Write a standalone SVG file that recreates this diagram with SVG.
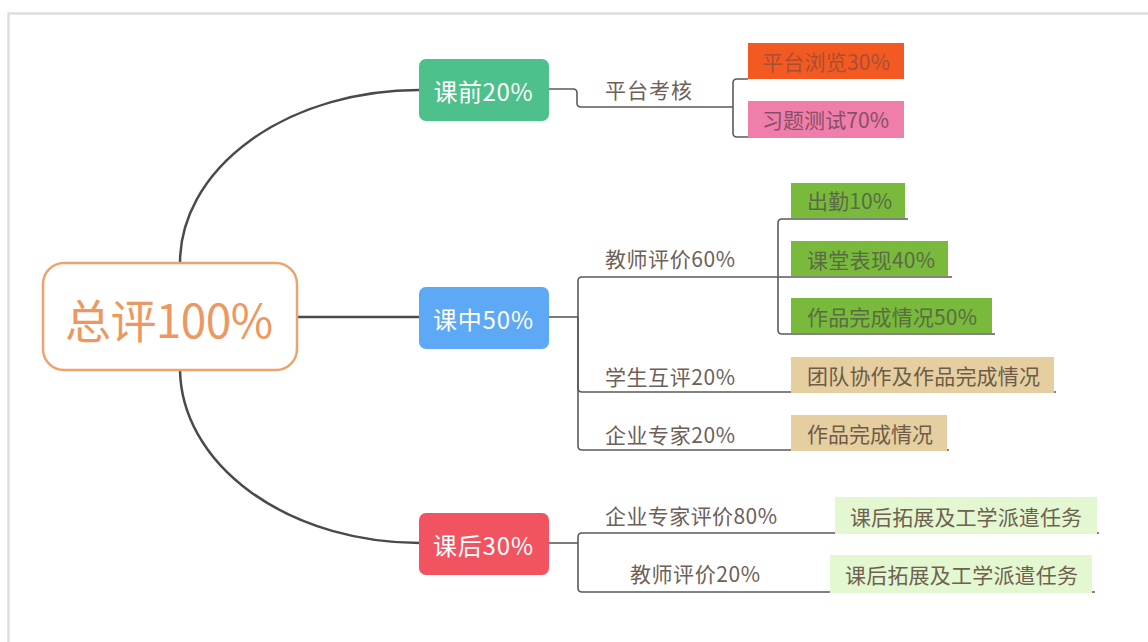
<svg xmlns="http://www.w3.org/2000/svg" width="1148" height="642" viewBox="0 0 1148 642">
<style>
text{font-family:"Noto Sans CJK SC","Noto Sans",sans-serif;dominant-baseline:central}
.main{fill:none;stroke:#4a4a4a;stroke-width:2.5}
.br{fill:none;stroke:#5a5a5a;stroke-width:1.6}
.l1{fill:#fff;font-size:24px;text-anchor:middle}
.lab{fill:#6d6058;font-size:21px}
.lf{font-size:21px}
</style>
<rect x="8.5" y="13.5" width="1200" height="700" fill="#fff" stroke="#dedede" stroke-width="2.5"/>
<g id="connectors">
<path class="main" d="M180 263 A239 173 0 0 1 419 90"/>
<path class="main" d="M180 370 A240 175 0 0 0 420 543"/>
<path class="main" d="M297 317 H419"/>
<path class="br" d="M549 89 H573 Q577 89 577 93 V103 Q577 107 581 107 H733"/>
<path class="br" d="M733 107 V83 Q733 79 737 79 H748"/>
<path class="br" d="M733 107 V133 Q733 137 737 137 H748"/>
<path class="br" d="M549 317 H578"/>
<path class="br" d="M578 317 V281 Q578 277 582 277 H778"/>
<path class="br" d="M778 277 V223 Q778 219 782 219 H908"/>
<path class="br" d="M778 277 H952"/>
<path class="br" d="M778 277 V330 Q778 334 782 334 H995"/>
<path class="br" d="M578 317 V388 Q578 392 582 392 H1056"/>
<path class="br" d="M578 317 V446 Q578 450 582 450 H949"/>
<path class="br" d="M549 543 H578"/>
<path class="br" d="M578 543 V537 Q578 533 582 533 H1099"/>
<path class="br" d="M578 543 V588 Q578 592 582 592 H1095"/>
</g>
<g id="root">
<rect x="43" y="263" width="254" height="107" rx="21" fill="#fff" stroke="#eea36f" stroke-width="2.5"/>
<text x="169" y="318" font-size="46" fill="#ec9862" text-anchor="middle" textLength="208">总评100%</text>
</g>
<g id="kq">
<rect x="419" y="59" width="130" height="62" rx="7" fill="#4dc08c"/>
<text class="l1" x="483" y="90" textLength="99">课前20%</text>
</g>
<g id="kz">
<rect x="419" y="287" width="130" height="62" rx="7" fill="#5ea9f5"/>
<text class="l1" x="483" y="318" textLength="100">课中50%</text>
</g>
<g id="kh">
<rect x="419" y="513" width="130" height="62" rx="7" fill="#f25360"/>
<text class="l1" x="483" y="544" textLength="100">课后30%</text>
</g>
<g id="ptkh"><text class="lab" x="605" y="89" textLength="87">平台考核</text></g>
<g id="ptll">
<rect x="748" y="43" width="156" height="36" fill="#f35a21"/>
<text class="lf" x="762" y="61" fill="#a94f34" textLength="128">平台浏览30%</text>
</g>
<g id="xtcs">
<rect x="748" y="101" width="156" height="37" fill="#f07eab"/>
<text class="lf" x="762" y="119" fill="#875066" textLength="127">习题测试70%</text>
</g>
<g id="jspj60"><text class="lab" x="605" y="258" textLength="130">教师评价60%</text></g>
<g id="cq">
<rect x="791" y="183" width="114" height="35" fill="#79b93c"/>
<text class="lf" x="807" y="200" fill="#5a6c43" textLength="85">出勤10%</text>
</g>
<g id="ktbx">
<rect x="791" y="241" width="157" height="35" fill="#79b93c"/>
<text class="lf" x="807" y="259" fill="#5a6c43" textLength="128">课堂表现40%</text>
</g>
<g id="zpwc50">
<rect x="791" y="298" width="201" height="35" fill="#79b93c"/>
<text class="lf" x="807" y="316" fill="#5a6c43" textLength="170">作品完成情况50%</text>
</g>
<g id="xshp"><text class="lab" x="605" y="376" textLength="130">学生互评20%</text></g>
<g id="tdxz">
<rect x="791" y="357" width="263" height="36" fill="#e5cfa0"/>
<text class="lf" x="807" y="375" fill="#6e5c48" textLength="233">团队协作及作品完成情况</text>
</g>
<g id="qyzj20"><text class="lab" x="605" y="434" textLength="130">企业专家20%</text></g>
<g id="zpwc">
<rect x="791" y="415" width="156" height="36" fill="#e5cfa0"/>
<text class="lf" x="807" y="433" fill="#6e5c48" textLength="126">作品完成情况</text>
</g>
<g id="qyzj80"><text class="lab" x="605" y="515" textLength="172">企业专家评价80%</text></g>
<g id="khtz1">
<rect x="835" y="497" width="262" height="37" fill="#e3f7d1"/>
<text class="lf" x="850" y="516" fill="#6e6150" textLength="232">课后拓展及工学派遣任务</text>
</g>
<g id="jspj20"><text class="lab" x="630" y="573" textLength="130">教师评价20%</text></g>
<g id="khtz2">
<rect x="830" y="555" width="262" height="38" fill="#e3f7d1"/>
<text class="lf" x="845" y="574" fill="#6e6150" textLength="233">课后拓展及工学派遣任务</text>
</g>
</svg>
